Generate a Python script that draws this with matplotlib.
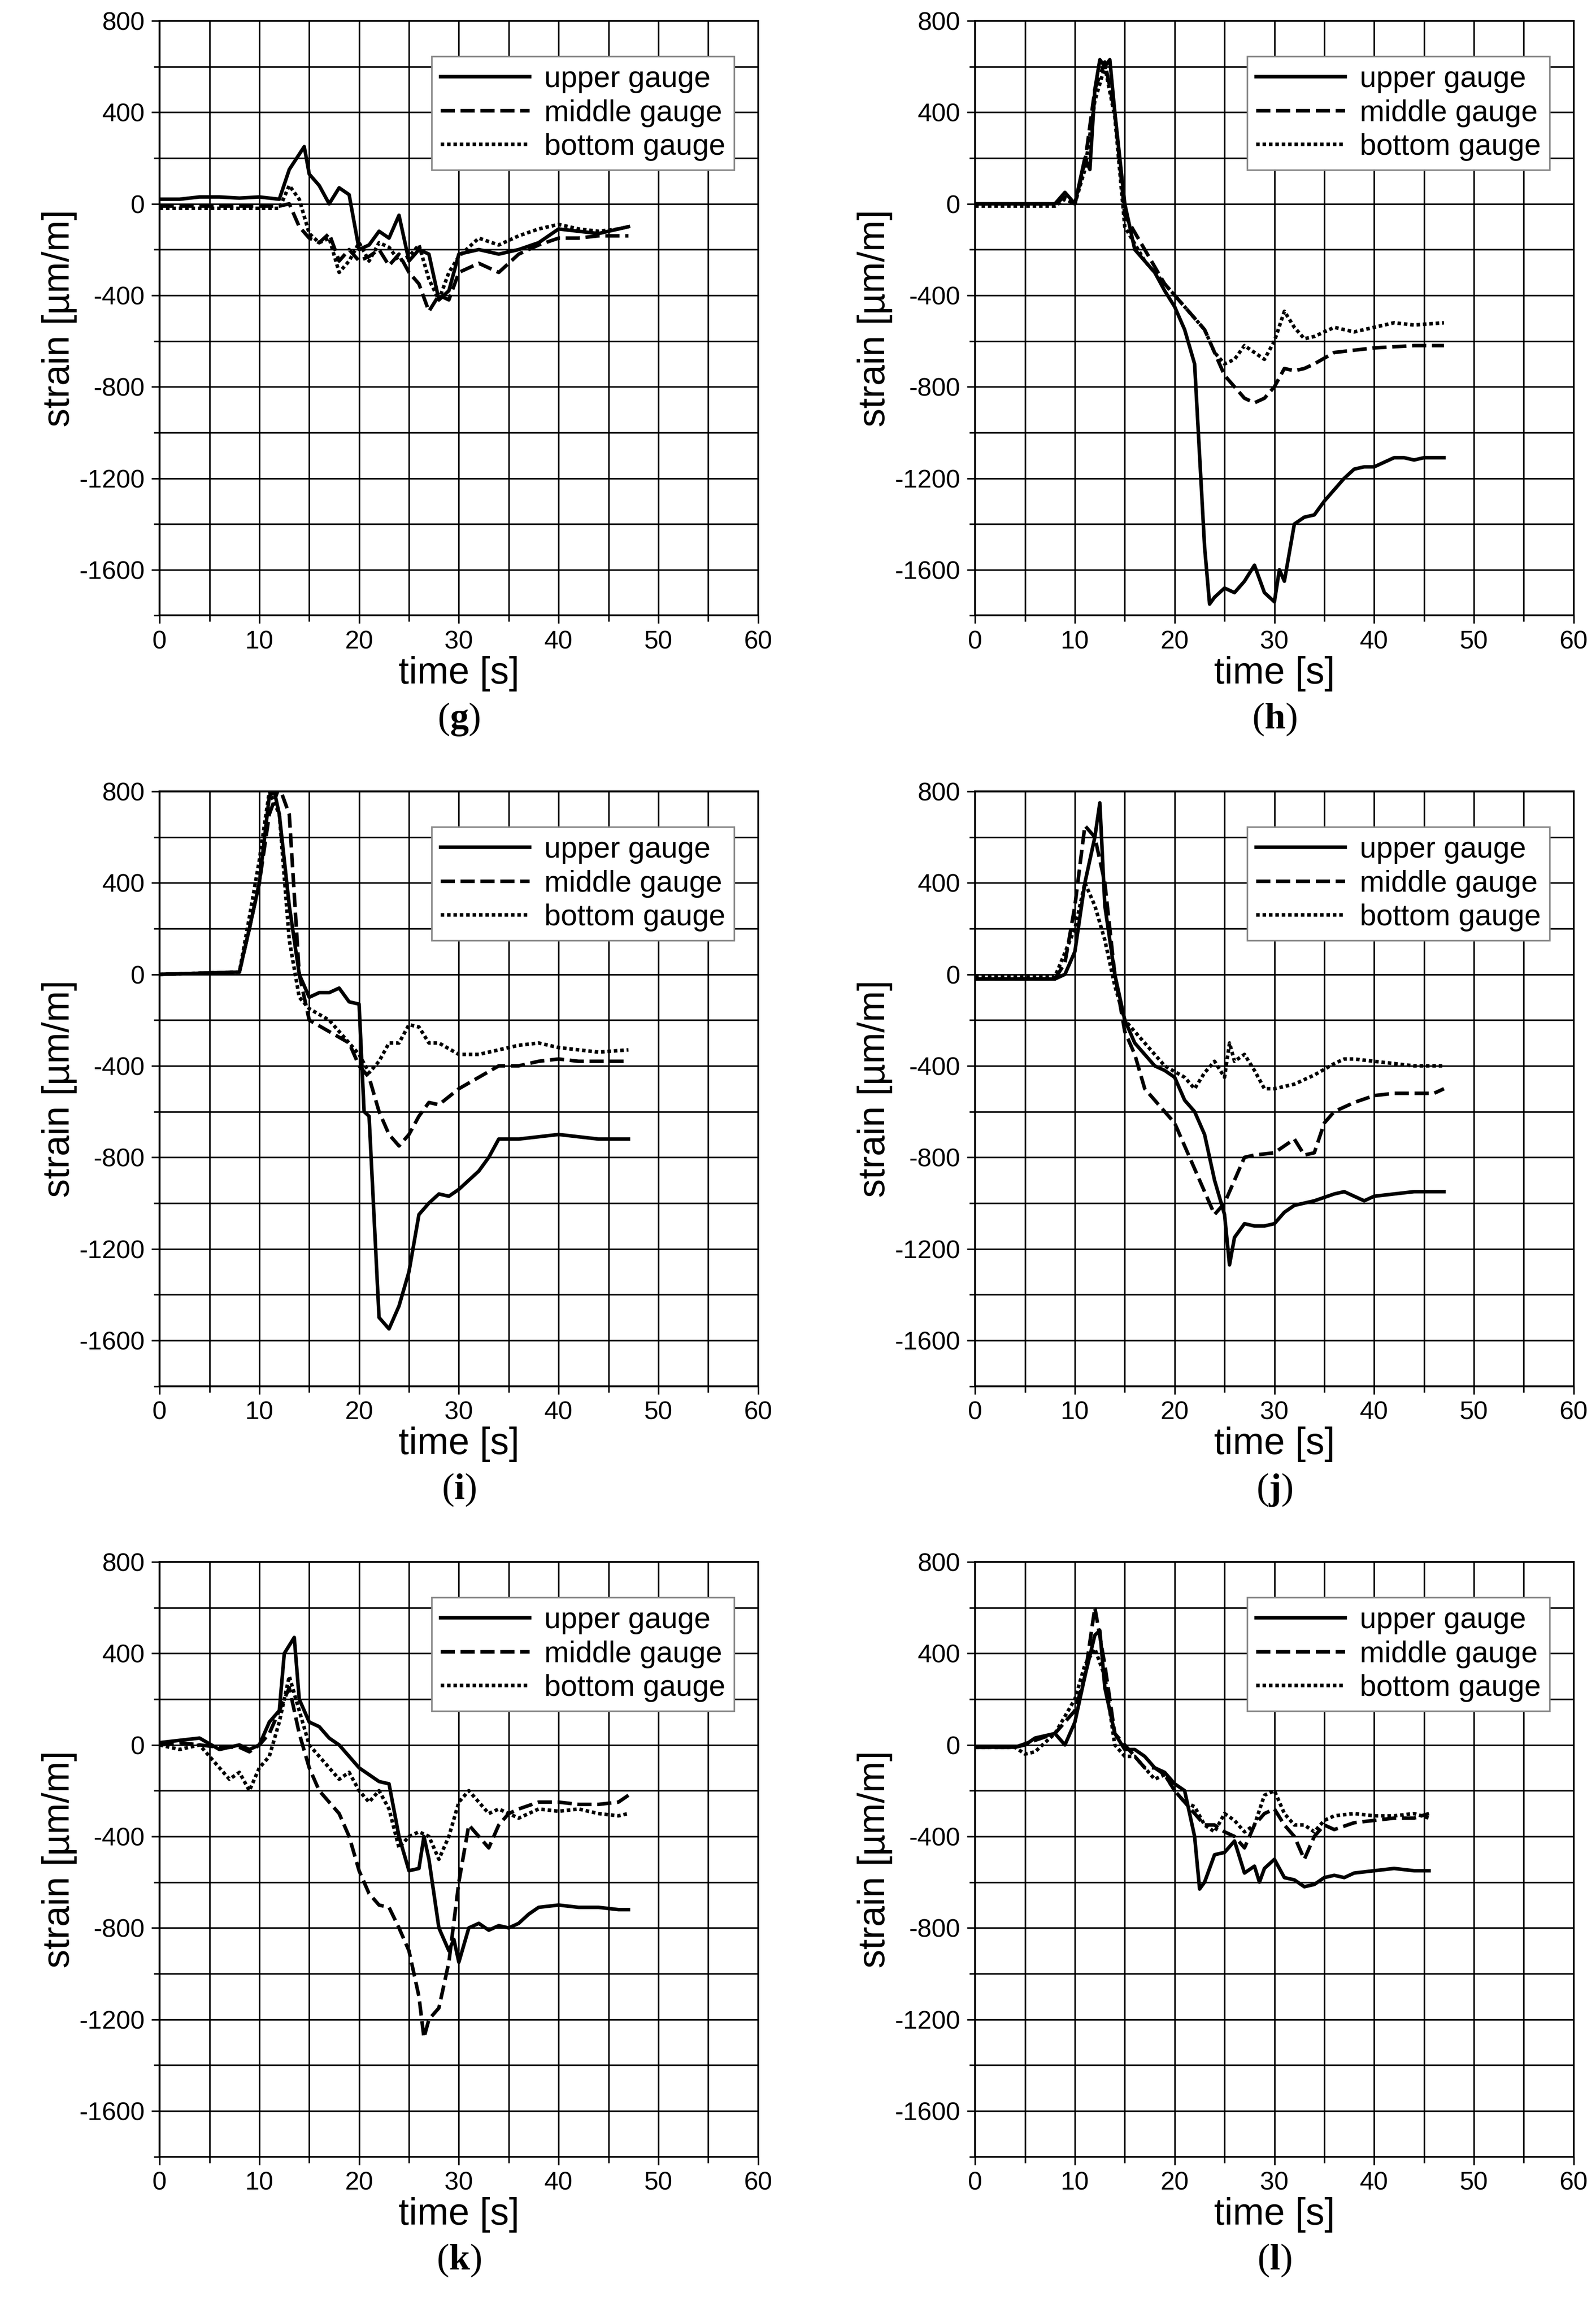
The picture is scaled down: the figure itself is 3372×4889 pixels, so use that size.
import matplotlib
matplotlib.use("Agg")
import matplotlib.pyplot as plt
from matplotlib.ticker import MultipleLocator

plt.rcParams['font.family'] = ['Liberation Sans', 'DejaVu Sans']
plt.rcParams['axes.unicode_minus'] = False
plt.rcParams['mathtext.fontset'] = 'custom'
plt.rcParams['mathtext.bf'] = 'Liberation Serif:bold'
plt.rcParams['mathtext.rm'] = 'Liberation Serif'

# ---- data: (time, strain) pairs per gauge ----
g_upper_t = [0,2,4,6,8,10,12,13,14.5,15,16,17,18,19,20,21,22,23,24,25,26,27,28,29,30,32,34,36,38,40,42,44,46,47]
g_upper_v = [20,20,30,30,25,30,20,150,250,130,80,0,70,40,-200,-180,-120,-150,-50,-250,-200,-220,-420,-380,-220,-200,-220,-200,-170,-110,-120,-130,-110,-100]
g_mid_t = [0,4,8,12,13,14,15,16,17,18,19,20,21,22,23,24,25,26,27,28,29,30,32,34,36,38,40,42,44,46,47]
g_mid_v = [-10,-10,-10,-10,0,-100,-150,-170,-130,-250,-200,-250,-230,-200,-270,-220,-300,-350,-470,-400,-420,-300,-260,-300,-220,-180,-150,-150,-140,-140,-140]
g_bot_t = [0,4,8,12,13,14,15,16,17,18,19,20,21,22,23,24,25,26,27,28,29,30,32,34,36,38,40,42,44,46,47]
g_bot_v = [-20,-20,-20,-20,80,20,-130,-170,-150,-300,-250,-170,-250,-170,-190,-250,-230,-180,-330,-420,-300,-230,-150,-180,-140,-110,-90,-110,-120,-110,-100]

h_upper_t = [0,8,9,10,11,11.5,12,12.5,13,13.5,14,15,16,17,18,19,20,21,22,22.5,23,23.5,24,25,26,27,28,29,30,30.5,31,32,33,34,35,36,37,38,39,40,41,42,43,44,45,47]
h_upper_v = [0,0,50,0,200,150,500,630,600,630,400,0,-200,-250,-300,-380,-450,-550,-700,-1100,-1500,-1750,-1720,-1680,-1700,-1650,-1580,-1700,-1740,-1600,-1650,-1400,-1370,-1360,-1300,-1250,-1200,-1160,-1150,-1150,-1130,-1110,-1110,-1120,-1110,-1110]
h_mid_t = [0,8,9,10,11,12,13,14,15,17,19,21,23,24,25,26,27,28,29,30,31,32,33,34,36,40,44,47]
h_mid_v = [0,0,30,0,180,500,620,400,-50,-200,-350,-450,-550,-650,-750,-800,-850,-870,-850,-800,-720,-730,-720,-700,-650,-630,-620,-620]
h_bot_t = [0,8,9,10,11,12,13,14,15,17,19,21,23,24,25,26,27,28,29,30,31,32,33,34,36,38,40,42,44,47]
h_bot_v = [-10,-10,20,0,150,450,600,380,-100,-250,-350,-450,-550,-650,-700,-680,-620,-650,-680,-600,-470,-540,-590,-580,-540,-560,-540,-520,-530,-520]

i_upper_t = [0,8,9,10,11,11.5,12,13,14,15,16,17,18,19,20,20.5,21,22,23,24,25,26,27,28,29,30,31,32,33,34,36,38,40,42,44,47]
i_upper_v = [0,10,200,400,780,800,700,300,0,-100,-80,-80,-60,-120,-130,-600,-620,-1500,-1550,-1450,-1300,-1050,-1000,-960,-970,-940,-900,-860,-800,-720,-720,-710,-700,-710,-720,-720]
i_mid_t = [0,8,9,10,11,12,13,14,15,17,19,20,21,22,23,24,25,26,27,28,30,32,34,36,38,40,42,44,47]
i_mid_v = [0,10,200,400,700,820,700,0,-200,-250,-300,-400,-450,-600,-700,-750,-700,-620,-560,-570,-500,-450,-400,-400,-380,-370,-380,-380,-380]
i_bot_t = [0,8,9,10,11,12,13,14,15,17,19,20,21,22,23,24,25,26,27,28,30,32,34,36,38,40,42,44,47]
i_bot_v = [0,10,250,500,800,700,150,-100,-150,-200,-300,-350,-430,-380,-300,-300,-220,-230,-300,-300,-350,-350,-330,-310,-300,-320,-330,-340,-330]

j_upper_t = [0,8,9,10,11,11.5,12,12.5,13,14,15,16,17,18,19,20,21,22,23,24,25,25.5,26,27,28,29,30,31,32,34,36,37,38,39,40,42,44,47]
j_upper_v = [-20,-20,0,100,400,500,600,750,300,0,-200,-300,-350,-400,-420,-450,-550,-600,-700,-900,-1050,-1270,-1150,-1090,-1100,-1100,-1090,-1040,-1010,-990,-960,-950,-970,-990,-970,-960,-950,-950]
j_mid_t = [0,8,9,10,11,12,13,14,15,16,17,18,19,20,21,22,23,24,25,26,27,28,30,31,32,33,34,35,36,38,40,42,44,46,47]
j_mid_v = [-20,-20,50,300,650,600,400,0,-250,-350,-500,-550,-600,-650,-750,-850,-950,-1050,-1000,-900,-800,-790,-780,-750,-720,-790,-780,-650,-600,-560,-530,-520,-520,-520,-500]
j_bot_t = [0,8,10,11,12,13,14,15,17,19,21,22,23,24,25,25.5,26,27,28,29,30,32,34,36,37,38,40,42,44,47]
j_bot_v = [-10,-10,200,400,300,150,-50,-200,-300,-400,-450,-500,-430,-380,-450,-300,-380,-350,-420,-500,-500,-480,-440,-390,-370,-370,-380,-390,-400,-400]

k_upper_t = [0,2,4,6,8,9,10,11,12,12.5,13.5,14,15,16,17,18,19,20,21,22,23,24,25,26,26.5,27,28,29,29.5,30,31,32,33,34,35,36,37,38,40,42,44,46,47]
k_upper_v = [10,20,30,-20,0,-20,0,100,150,400,470,200,100,80,30,0,-50,-100,-130,-160,-170,-400,-550,-540,-400,-500,-800,-900,-850,-950,-800,-780,-810,-790,-800,-780,-740,-710,-700,-710,-710,-720,-720]
k_mid_t = [0,2,4,6,8,9,10,11,12,13,14,15,16,17,18,19,20,21,22,23,24,25,26,26.5,27,28,29,30,31,32,33,34,35,36,38,40,42,44,46,47]
k_mid_v = [0,10,0,-10,-10,-30,0,50,150,250,50,-100,-200,-250,-300,-400,-550,-650,-700,-710,-800,-900,-1100,-1280,-1200,-1150,-950,-600,-350,-400,-450,-350,-300,-280,-250,-250,-260,-260,-250,-220]
k_bot_t = [0,2,4,6,7,8,9,10,11,12,13,14,15,16,17,18,19,20,21,22,23,24,25,26,27,28,29,30,31,32,33,34,36,38,40,42,44,46,47]
k_bot_v = [0,-20,0,-100,-150,-120,-200,-100,-50,100,300,150,0,-50,-100,-150,-120,-200,-250,-200,-280,-450,-400,-380,-400,-500,-400,-250,-200,-250,-300,-280,-320,-280,-290,-280,-300,-310,-300]

l_upper_t = [0,4,5,6,8,9,10,11,12,12.5,13,14,15,16,17,18,19,20,21,22,22.5,23,24,25,26,27,28,28.5,29,30,31,32,33,34,35,36,37,38,40,42,44,45.5]
l_upper_v = [-10,-10,0,30,50,0,100,300,480,500,250,50,-20,-20,-50,-100,-120,-170,-200,-400,-630,-600,-480,-470,-420,-560,-530,-600,-540,-500,-580,-590,-620,-610,-580,-570,-580,-560,-550,-540,-550,-550]
l_mid_t = [0,4,6,8,10,11,12,13,14,15,16,17,18,19,20,21,22,23,24,25,26,27,28,29,30,31,32,33,34,35,36,38,40,42,44,45.5]
l_mid_v = [-10,-10,20,50,150,300,600,350,50,0,-50,-100,-100,-130,-200,-250,-300,-350,-350,-380,-400,-450,-350,-300,-280,-350,-400,-500,-400,-350,-370,-340,-330,-320,-320,-300]
l_bot_t = [0,4,5,6,8,10,11,12,13,14,15,16,17,18,19,20,21,22,23,24,25,26,27,28,29,30,31,32,33,34,35,36,38,40,42,44,45.5]
l_bot_v = [-10,-10,-40,-30,50,200,350,420,300,0,-50,-50,-100,-150,-130,-200,-250,-270,-350,-380,-300,-330,-380,-350,-220,-200,-300,-350,-350,-380,-330,-310,-300,-310,-310,-300,-320]

panels = [
    ("g", (g_upper_t, g_upper_v), (g_mid_t, g_mid_v), (g_bot_t, g_bot_v)),
    ("h", (h_upper_t, h_upper_v), (h_mid_t, h_mid_v), (h_bot_t, h_bot_v)),
    ("i", (i_upper_t, i_upper_v), (i_mid_t, i_mid_v), (i_bot_t, i_bot_v)),
    ("j", (j_upper_t, j_upper_v), (j_mid_t, j_mid_v), (j_bot_t, j_bot_v)),
    ("k", (k_upper_t, k_upper_v), (k_mid_t, k_mid_v), (k_bot_t, k_bot_v)),
    ("l", (l_upper_t, l_upper_v), (l_mid_t, l_mid_v), (l_bot_t, l_bot_v)),
]
labels = ["upper gauge", "middle gauge", "bottom gauge"]

fig = plt.figure(figsize=(3372/300, 4889/300), dpi=300)
lefts = [0.100, 0.611]
bottoms = [0.734, 0.401, 0.068]
W, H = 0.375, 0.257
for idx, (name, up, mid, bot) in enumerate(panels):
    r, c = divmod(idx, 2)
    ax = fig.add_axes([lefts[c], bottoms[r], W, H])
    ax.plot(*up, color='black', lw=1.8, ls='-', label=labels[0])
    ax.plot(*mid, color='black', lw=1.8, ls=(0, (4, 1.6)), label=labels[1])
    ax.plot(*bot, color='black', lw=1.8, ls=(0, (1, 0.8)), label=labels[2])
    ax.set_xlim(0, 60)
    ax.set_ylim(-1800, 800)
    ax.xaxis.set_major_locator(MultipleLocator(10))
    ax.xaxis.set_minor_locator(MultipleLocator(5))
    ax.yaxis.set_major_locator(MultipleLocator(400))
    ax.yaxis.set_minor_locator(MultipleLocator(200))
    ax.grid(True, which='both', color='black', lw=0.8)
    ax.tick_params(which='both', direction='out', labelsize=13, width=0.8)
    ax.tick_params(which='major', length=4)
    ax.tick_params(which='minor', length=3)
    ax.set_yticks([800, 400, 0, -400, -800, -1200, -1600])
    ax.set_xlabel("time [s]", fontsize=19, labelpad=1)
    ax.set_ylabel("strain [\u00b5m/m]", fontsize=19, labelpad=1)
    for s in ax.spines.values():
        s.set_linewidth(0.9)
    leg = ax.legend(loc='upper right', bbox_to_anchor=(0.96, 0.94), fontsize=15,
                    frameon=True, fancybox=False, framealpha=1,
                    edgecolor='#888888', handlelength=3.0, borderaxespad=0.0,
                    labelspacing=0.2, handletextpad=0.5, borderpad=0.3)
    leg.get_frame().set_linewidth(0.8)
    ax.text(0.5, -0.175, r"$\mathrm{(}\mathbf{%s}\mathrm{)}$" % name, transform=ax.transAxes,
            ha='center', va='center', fontsize=19)

fig.savefig("out.png", dpi=300)
